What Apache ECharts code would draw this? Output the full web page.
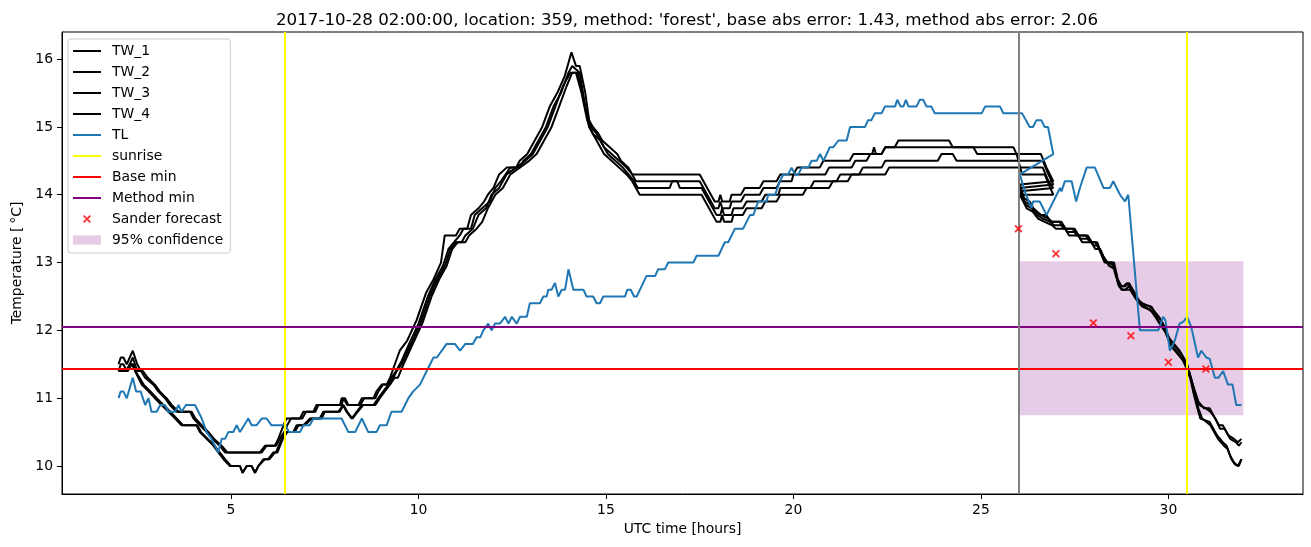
<!DOCTYPE html>
<html><head><meta charset="utf-8">
<script src="https://cdn.jsdelivr.net/npm/echarts@6/dist/echarts.min.js"></script>
<style>html,body{margin:0;padding:0;background:#fff}#c{width:1311px;height:547px}</style>
</head><body><div id="c"></div>
<script>
// ---------------- data (hours UTC, temperature degC) ----------------
const TW_1 = [[2.0,11.5],[2.06,11.6],[2.13,11.6],[2.22,11.5],[2.38,11.7],[2.5,11.5],[2.6,11.4],[2.71,11.3],[2.93,11.2],[3.06,11.1],[3.24,11.0],[3.37,10.9],[3.55,10.8],[3.91,10.8],[4.0,10.7],[4.17,10.6],[4.35,10.5],[4.5,10.4],[4.7,10.3],[4.84,10.2],[5.77,10.2],[5.91,10.3],[6.17,10.3],[6.26,10.4],[6.4,10.6],[6.48,10.7],[6.84,10.7],[6.93,10.8],[7.2,10.8],[7.28,10.9],[7.91,10.9],[7.95,11.0],[8.04,11.0],[8.13,10.9],[8.4,10.9],[8.49,11.0],[8.8,11.0],[8.88,11.1],[9.02,11.2],[9.15,11.2],[9.24,11.3],[9.37,11.5],[9.5,11.7],[9.7,11.85],[9.95,12.15],[10.2,12.55],[10.4,12.75],[10.6,13.0],[10.7,13.4],[11.0,13.4],[11.1,13.5],[11.3,13.5],[11.4,13.7],[11.6,13.8],[11.75,13.9],[11.85,14.0],[12.0,14.1],[12.15,14.3],[12.35,14.4],[12.6,14.4],[12.7,14.5],[12.9,14.6],[13.1,14.8],[13.3,15.0],[13.5,15.3],[13.7,15.5],[13.9,15.75],[14.08,16.1],[14.2,15.9],[14.3,15.9],[14.45,15.5],[14.55,15.1],[14.65,15.0],[14.8,14.9],[14.9,14.8],[15.1,14.7],[15.3,14.6],[15.4,14.5],[15.6,14.4],[15.7,14.3],[17.5,14.3],[17.7,14.1],[17.9,13.9],[18.0,13.9],[18.05,14.0],[18.1,13.9],[18.3,13.9],[18.35,14.0],[18.6,14.0],[18.7,14.1],[19.1,14.1],[19.2,14.2],[19.55,14.2],[19.65,14.3],[20.0,14.3],[20.1,14.4],[20.7,14.4],[20.8,14.5],[21.5,14.5],[21.6,14.6],[22.1,14.6],[22.15,14.7],[22.2,14.6],[22.35,14.6],[22.45,14.7],[22.7,14.7],[22.8,14.8],[24.15,14.8],[24.25,14.7],[25.87,14.7],[25.95,14.6],[26.6,14.6],[26.75,14.4],[26.93,14.2],
  [26.04,14.15],[26.15,13.95],[26.3,13.9],[26.4,13.8],[26.6,13.7],[26.75,13.7],[26.85,13.6],[27.1,13.6],[27.2,13.5],[27.45,13.5],[27.55,13.4],[27.8,13.4],[27.9,13.3],[28.05,13.3],[28.15,13.2],[28.3,13.0],[28.5,13.0],[28.6,12.8],[28.7,12.65],[28.8,12.65],[28.9,12.7],[29.05,12.6],[29.2,12.45],[29.3,12.4],[29.5,12.35],[29.6,12.3],[29.75,12.2],[29.85,12.1],[30.0,11.9],[30.15,11.8],[30.3,11.7],[30.45,11.55],[30.55,11.4],[30.65,11.2],[30.8,10.95],[30.95,10.85],[31.1,10.85],[31.2,10.75],[31.35,10.6],[31.45,10.6],[31.6,10.45],[31.75,10.4],[31.85,10.35],[31.95,10.4]];
const TW_2 = [[2.0,11.4],[2.06,11.5],[2.13,11.5],[2.22,11.4],[2.38,11.6],[2.5,11.4],[2.65,11.4],[2.78,11.3],[2.97,11.2],[3.1,11.1],[3.28,11.0],[3.42,10.9],[3.6,10.8],[3.95,10.8],[4.05,10.7],[4.22,10.6],[4.4,10.5],[4.55,10.4],[4.75,10.3],[4.9,10.2],[5.82,10.2],[5.95,10.3],[6.2,10.3],[6.3,10.4],[6.42,10.5],[6.5,10.6],[6.6,10.7],[6.9,10.7],[7.0,10.8],[7.25,10.8],[7.33,10.9],[7.95,10.9],[8.0,11.0],[8.1,10.9],[8.45,10.9],[8.55,11.0],[8.85,11.0],[8.93,11.1],[9.05,11.2],[9.18,11.2],[9.28,11.3],[9.4,11.4],[9.55,11.55],[9.75,11.8],[10.0,12.1],[10.25,12.5],[10.45,12.75],[10.65,12.95],[10.8,13.2],[10.95,13.3],[11.1,13.4],[11.2,13.5],[11.4,13.5],[11.5,13.7],[11.7,13.8],[11.9,13.9],[12.05,14.1],[12.2,14.2],[12.45,14.4],[12.7,14.4],[12.8,14.5],[13.0,14.6],[13.2,14.8],[13.4,15.0],[13.6,15.3],[13.8,15.5],[14.0,15.8],[14.1,15.9],[14.3,15.8],[14.45,15.3],[14.6,15.0],[14.75,14.9],[14.95,14.7],[15.15,14.6],[15.35,14.5],[15.55,14.4],[15.7,14.3],[15.8,14.2],[17.5,14.2],[17.7,14.0],[17.9,13.8],[18.0,13.8],[18.05,13.9],[18.1,13.8],[18.3,13.8],[18.35,13.9],[18.6,13.9],[18.7,14.0],[19.1,14.0],[19.2,14.1],[19.55,14.1],[19.64,14.2],[19.95,14.2],[20.0,14.3],[20.85,14.3],[20.95,14.4],[21.55,14.4],[21.65,14.5],[21.95,14.5],[22.05,14.6],[22.35,14.6],[22.45,14.7],[24.8,14.7],[24.9,14.6],[25.95,14.6],[26.0,14.5],[26.65,14.5],[26.8,14.3],[26.93,14.15],
  [26.04,14.1],[26.17,13.9],[26.32,13.85],[26.45,13.75],[26.6,13.7],[26.8,13.65],[26.9,13.6],[27.15,13.6],[27.25,13.5],[27.5,13.5],[27.6,13.4],[27.85,13.4],[27.95,13.3],[28.1,13.3],[28.2,13.15],[28.35,13.0],[28.55,13.0],[28.65,12.75],[28.75,12.65],[28.85,12.65],[28.95,12.7],[29.1,12.55],[29.25,12.4],[29.55,12.35],[29.65,12.25],[29.8,12.15],[29.9,12.05],[30.05,11.85],[30.2,11.75],[30.35,11.65],[30.5,11.5],[30.6,11.3],[30.7,11.1],[30.82,10.9],[31.0,10.85],[31.12,10.8],[31.25,10.7],[31.38,10.55],[31.5,10.55],[31.65,10.4],[31.8,10.35],[31.88,10.3],[31.95,10.35]];
const TW_3 = [[2.0,11.4],[2.2,11.4],[2.3,11.5],[2.4,11.5],[2.44,11.4],[2.62,11.2],[2.8,11.1],[2.97,11.0],[3.15,10.9],[3.33,10.8],[3.51,10.7],[3.68,10.6],[4.08,10.6],[4.17,10.5],[4.35,10.4],[4.53,10.3],[4.66,10.2],[4.8,10.1],[4.97,10.0],[5.24,10.0],[5.31,9.9],[5.42,10.0],[5.55,10.0],[5.64,9.9],[5.73,10.0],[5.86,10.1],[5.99,10.1],[6.13,10.2],[6.2,10.2],[6.35,10.4],[6.48,10.5],[6.66,10.5],[6.75,10.6],[6.93,10.6],[7.11,10.7],[7.37,10.7],[7.46,10.8],[7.86,10.8],[7.99,10.9],[8.08,10.8],[8.22,10.7],[8.35,10.8],[8.49,10.9],[8.8,10.9],[8.93,11.0],[9.06,11.1],[9.2,11.2],[9.33,11.3],[9.42,11.4],[9.55,11.5],[9.8,11.8],[10.05,12.1],[10.3,12.5],[10.5,12.75],[10.7,12.95],[10.85,13.2],[11.0,13.3],[11.15,13.3],[11.25,13.4],[11.45,13.5],[11.6,13.7],[11.8,13.8],[11.95,14.0],[12.15,14.1],[12.35,14.3],[12.6,14.4],[12.85,14.5],[13.05,14.6],[13.25,14.8],[13.45,15.0],[13.65,15.3],[13.85,15.6],[14.05,15.8],[14.2,15.8],[14.35,15.5],[14.5,15.1],[14.65,14.9],[14.85,14.8],[15.05,14.6],[15.25,14.5],[15.45,14.4],[15.6,14.3],[15.75,14.2],[15.85,14.1],[16.7,14.1],[16.77,14.2],[16.9,14.2],[16.97,14.1],[17.55,14.1],[17.75,13.9],[17.95,13.7],[18.05,13.7],[18.1,13.8],[18.15,13.7],[18.35,13.7],[18.4,13.8],[18.65,13.8],[18.75,13.9],[19.15,13.9],[19.25,14.0],[19.6,14.0],[19.65,14.1],[20.45,14.1],[20.55,14.2],[21.15,14.2],[21.25,14.3],[21.75,14.3],[21.85,14.4],[22.35,14.4],[22.45,14.5],[23.85,14.5],[23.95,14.6],[24.25,14.6],[24.35,14.5],[26.0,14.5],[26.05,14.4],[26.65,14.4],[26.8,14.2],[26.93,14.1],
  [26.04,14.05],[26.2,13.85],[26.35,13.8],[26.5,13.7],[26.65,13.65],[26.85,13.6],[26.95,13.55],[27.2,13.55],[27.3,13.45],[27.55,13.45],[27.65,13.35],[27.9,13.35],[28.0,13.25],[28.12,13.25],[28.25,13.1],[28.38,13.0],[28.55,12.95],[28.65,12.7],[28.75,12.6],[28.85,12.6],[28.95,12.65],[29.1,12.5],[29.25,12.4],[29.5,12.3],[29.62,12.25],[29.78,12.1],[29.9,12.0],[30.05,11.8],[30.2,11.7],[30.35,11.6],[30.48,11.45],[30.58,11.3],[30.66,11.1],[30.75,10.9],[30.85,10.7],[31.1,10.65],[31.3,10.45],[31.45,10.35],[31.55,10.3],[31.65,10.15],[31.75,10.05],[31.85,10.0],[31.95,10.1]];
const TW_4 = [[2.0,11.4],[2.25,11.4],[2.35,11.5],[2.45,11.4],[2.5,11.4],[2.67,11.2],[2.85,11.1],[3.02,11.0],[3.2,10.9],[3.38,10.8],[3.55,10.7],[3.72,10.6],[4.1,10.6],[4.2,10.5],[4.38,10.4],[4.56,10.3],[4.7,10.2],[4.84,10.1],[5.0,10.0],[5.24,10.0],[5.31,9.9],[5.42,10.0],[5.55,10.0],[5.64,9.9],[5.73,10.0],[5.9,10.1],[6.03,10.1],[6.17,10.2],[6.24,10.2],[6.38,10.4],[6.5,10.5],[6.7,10.5],[6.8,10.6],[6.97,10.6],[7.15,10.7],[7.42,10.7],[7.5,10.8],[7.9,10.8],[8.0,10.9],[8.1,10.8],[8.24,10.7],[8.38,10.8],[8.53,10.9],[8.85,10.9],[8.97,11.0],[9.1,11.1],[9.24,11.2],[9.36,11.3],[9.45,11.3],[9.6,11.5],[9.85,11.8],[10.1,12.1],[10.35,12.5],[10.55,12.75],[10.75,12.95],[10.9,13.2],[11.05,13.3],[11.25,13.3],[11.35,13.4],[11.55,13.5],[11.7,13.6],[11.85,13.8],[12.05,14.0],[12.25,14.1],[12.45,14.3],[12.7,14.4],[12.95,14.5],[13.15,14.6],[13.35,14.8],[13.55,15.0],[13.75,15.3],[13.95,15.6],[14.1,15.8],[14.25,15.8],[14.4,15.4],[14.55,15.0],[14.75,14.8],[14.95,14.6],[15.15,14.5],[15.35,14.4],[15.55,14.3],[15.7,14.2],[15.8,14.1],[15.9,14.0],[17.55,14.0],[17.75,13.8],[17.95,13.6],[18.05,13.6],[18.1,13.7],[18.15,13.6],[18.35,13.6],[18.4,13.7],[18.65,13.7],[18.75,13.8],[19.15,13.8],[19.25,13.9],[19.55,13.9],[19.65,14.0],[20.25,14.0],[20.35,14.1],[20.95,14.1],[21.05,14.2],[21.45,14.2],[21.55,14.3],[22.45,14.3],[22.55,14.4],[26.05,14.4],[26.1,14.3],[26.7,14.3],[26.85,14.1],[26.93,14.0],
  [26.04,14.0],[26.22,13.8],[26.38,13.75],[26.52,13.65],[26.7,13.6],[26.9,13.55],[27.0,13.5],[27.25,13.5],[27.35,13.4],[27.6,13.4],[27.7,13.3],[27.95,13.3],[28.05,13.2],[28.18,13.2],[28.3,13.05],[28.42,12.95],[28.58,12.9],[28.68,12.65],[28.78,12.6],[28.88,12.6],[28.98,12.6],[29.15,12.45],[29.3,12.35],[29.52,12.3],[29.65,12.2],[29.82,12.05],[29.95,11.95],[30.1,11.75],[30.25,11.65],[30.4,11.55],[30.52,11.4],[30.62,11.25],[30.7,11.05],[30.8,10.85],[30.9,10.7],[31.12,10.6],[31.32,10.4],[31.48,10.3],[31.58,10.25],[31.68,10.1],[31.78,10.02],[31.88,10.0],[31.95,10.1]];
const TL = [[2.0,11.0],[2.06,11.1],[2.13,11.1],[2.22,11.0],[2.38,11.3],[2.47,11.1],[2.59,11.1],[2.71,10.9],[2.8,11.0],[2.88,10.8],[3.02,10.8],[3.11,10.9],[3.24,10.9],[3.33,10.8],[3.51,10.8],[3.6,10.9],[3.68,10.8],[3.8,10.9],[4.04,10.9],[4.13,10.8],[4.22,10.7],[4.35,10.5],[4.48,10.4],[4.66,10.2],[4.75,10.4],[4.84,10.4],[4.93,10.5],[5.06,10.5],[5.15,10.6],[5.24,10.5],[5.46,10.7],[5.55,10.6],[5.68,10.6],[5.82,10.7],[5.95,10.7],[6.08,10.6],[6.45,10.6],[6.55,10.5],[6.84,10.5],[6.93,10.6],[7.1,10.6],[7.2,10.7],[7.95,10.7],[8.13,10.5],[8.31,10.5],[8.49,10.7],[8.66,10.5],[8.88,10.5],[8.97,10.6],[9.15,10.6],[9.28,10.8],[9.55,10.8],[9.73,11.0],[9.86,11.1],[10.04,11.2],[10.22,11.4],[10.4,11.6],[10.49,11.6],[10.75,11.8],[10.97,11.8],[11.11,11.7],[11.25,11.8],[11.45,11.8],[11.55,11.9],[11.65,11.9],[11.73,12.0],[11.86,12.1],[11.95,12.0],[12.04,12.1],[12.17,12.1],[12.31,12.2],[12.4,12.1],[12.49,12.2],[12.62,12.1],[12.71,12.2],[12.89,12.2],[12.97,12.4],[13.24,12.4],[13.33,12.5],[13.42,12.5],[13.46,12.6],[13.55,12.6],[13.64,12.7],[13.73,12.5],[13.82,12.6],[13.91,12.6],[14.0,12.9],[14.13,12.6],[14.4,12.6],[14.48,12.5],[14.66,12.5],[14.75,12.4],[14.84,12.4],[14.93,12.5],[15.51,12.5],[15.57,12.6],[15.66,12.6],[15.75,12.5],[15.82,12.5],[16.08,12.8],[16.31,12.8],[16.39,12.9],[16.57,12.9],[16.66,13.0],[17.33,13.0],[17.42,13.1],[18.0,13.1],[18.17,13.3],[18.26,13.3],[18.44,13.5],[18.66,13.5],[18.84,13.7],[18.93,13.7],[19.06,13.9],[19.28,13.9],[19.33,14.0],[19.51,14.0],[19.64,14.2],[19.73,14.3],[19.86,14.3],[19.95,14.4],[20.04,14.3],[20.13,14.3],[20.22,14.4],[20.4,14.4],[20.48,14.5],[20.62,14.5],[20.71,14.6],[20.8,14.5],[20.97,14.7],[21.06,14.7],[21.2,14.8],[21.42,14.8],[21.51,15.0],[21.91,15.0],[21.99,15.1],[22.08,15.1],[22.17,15.2],[22.35,15.2],[22.44,15.3],[22.71,15.3],[22.77,15.4],[22.86,15.3],[22.93,15.3],[23.0,15.4],[23.07,15.3],[23.28,15.3],[23.37,15.4],[23.46,15.4],[23.55,15.3],[23.68,15.3],[23.77,15.2],[25.02,15.2],[25.11,15.3],[25.51,15.3],[25.6,15.2],[26.1,15.2],[26.3,15.0],[26.39,15.0],[26.48,15.1],[26.61,15.1],[26.7,15.0],[26.79,15.0],[26.93,14.6],
  [26.04,14.3],[26.17,14.05],[26.35,13.8],[26.39,13.9],[26.57,13.9],[26.75,13.7],[27.11,14.1],[27.15,14.05],[27.24,14.2],[27.42,14.2],[27.54,13.9],[27.64,14.1],[27.82,14.4],[28.04,14.4],[28.27,14.1],[28.44,14.1],[28.53,14.2],[28.71,14.0],[28.84,13.9],[28.93,14.0],[28.98,14.0],[29.24,12.0],[29.73,12.0],[29.86,12.2],[29.92,12.15],[30.04,11.7],[30.17,11.85],[30.3,12.1],[30.4,12.13],[30.5,12.2],[30.61,12.05],[30.79,11.6],[30.88,11.7],[31.01,11.6],[31.1,11.58],[31.24,11.3],[31.33,11.3],[31.46,11.4],[31.59,11.2],[31.71,11.2],[31.81,10.9],[31.95,10.9]];
const sunriseHours = [6.44, 30.49];
const baseMin = 11.43;
const methodMin = 12.06;
const forecastStart = 26;
const sanderForecast = [[26,13.5],[27,13.13],[28,12.11],[29,11.92],[30,11.53],[31,11.43]];
const confidenceHours = [26, 32];
const confidenceBounds = [10.75, 13.02];
const xTicks = [5, 10, 15, 20, 25, 30];
const yTicks = [10, 11, 12, 13, 14, 15, 16];
const legendNames = ['TW_1','TW_2','TW_3','TW_4','TL','sunrise','Base min','Method min','Sander forecast','95% confidence'];
const titleText = "2017-10-28 02:00:00, location: 359, method: 'forest', base abs error: 1.43, method abs error: 2.06";

// ---------------- chart ----------------
const FONT = 'DejaVu Sans';
const lineIcon = 'path://M0,0M34,14M0,6H28V8H0Z';
const patchIcon = 'path://M0,0M34,14M0,2.3H28V11.7H0Z';
const xIcon = 'path://M0,0M34,14M10,4.3L11.3,3L18,9.7L16.7,11ZM16.7,3L18,4.3L11.3,11L10,9.7Z';
const xSymbol = 'path://M0,1.3L1.3,0L8,6.7L6.7,8ZM6.7,0L8,1.3L1.3,8L0,6.7Z';

function lineSeries(name, data, color) {
  return { name, type: 'line', data, color, showSymbol: false, symbol: 'none',
    lineStyle: { color, width: 2 }, itemStyle: { color }, emphasis: { disabled: true }, z: 3 };
}
function markSeries(name, color, markData, z) {
  return { name, type: 'line', data: [], color, itemStyle: { color }, z: z || 4,
    markLine: { silent: true, symbol: ['none', 'none'], label: { show: false }, z: z || 4,
      lineStyle: { color, width: 2, type: 'solid' }, emphasis: { disabled: true }, data: markData } };
}

const chart = echarts.init(document.getElementById('c'), null, { renderer: 'canvas' });
chart.setOption({
  animation: false,
  backgroundColor: '#fff',
  textStyle: { fontFamily: FONT },
  title: { text: titleText, left: 682, top: 7, textAlign: 'center',
    textStyle: { fontFamily: FONT, fontSize: 16.7, fontWeight: 'normal', color: '#000' } },
  grid: { left: 62, right: 8, top: 32, bottom: 53, show: true, borderColor: '#000', borderWidth: 1, backgroundColor: 'transparent' },
  legend: {
    orient: 'vertical', left: 68, top: 39, itemWidth: 34, itemHeight: 14, itemGap: 7,
    padding: [5, 7, 6, 5], borderColor: '#cccccc', borderWidth: 1, borderRadius: 3,
    backgroundColor: 'rgba(255,255,255,0.8)', selectedMode: false, z: 10,
    textStyle: { fontFamily: FONT, fontSize: 13.9, color: '#000', padding: [0, 0, 0, 0] },
    data: legendNames.map(n => ({ name: n,
      icon: n === 'Sander forecast' ? xIcon : (n === '95% confidence' ? patchIcon : lineIcon) }))
  },
  xAxis: {
    type: 'value', min: 0.493, max: 33.59,
    name: 'UTC time [hours]', nameLocation: 'middle', nameGap: 28,
    nameTextStyle: { fontFamily: FONT, fontSize: 13.9, color: '#000' },
    axisLine: { show: true, lineStyle: { color: '#000', width: 1 } },
    axisTick: { show: true, length: 5, customValues: xTicks, lineStyle: { color: '#000', width: 1 } },
    axisLabel: { customValues: xTicks, margin: 9, fontFamily: FONT, fontSize: 13.9, color: '#000', formatter: v => String(v) },
    splitLine: { show: false }
  },
  yAxis: {
    type: 'value', min: 9.587, max: 16.40,
    name: 'Temperature [\u2009°C]', nameLocation: 'middle', nameGap: 37,
    nameTextStyle: { fontFamily: FONT, fontSize: 13.9, color: '#000' },
    axisLine: { show: true, lineStyle: { color: '#000', width: 1 } },
    axisTick: { show: true, length: 5, customValues: yTicks, lineStyle: { color: '#000', width: 1 } },
    axisLabel: { customValues: yTicks, margin: 9, fontFamily: FONT, fontSize: 13.9, color: '#000', formatter: v => String(v) },
    splitLine: { show: false }
  },
  series: [
    { name: '95% confidence', type: 'line', data: [], color: 'rgba(128,0,128,0.2)', itemStyle: { color: 'rgba(128,0,128,0.2)' }, z: 1,
      markArea: { silent: true, z: 1, itemStyle: { color: 'rgba(128,0,128,0.2)' }, emphasis: { disabled: true },
        data: [[{ xAxis: confidenceHours[0], yAxis: confidenceBounds[0] }, { xAxis: confidenceHours[1], yAxis: confidenceBounds[1] }]] } },
    lineSeries('TW_1', TW_1, '#000000'),
    lineSeries('TW_2', TW_2, '#000000'),
    lineSeries('TW_3', TW_3, '#000000'),
    lineSeries('TW_4', TW_4, '#000000'),
    lineSeries('TL', TL, '#1f77b4'),
    markSeries('sunrise', '#ffff00', sunriseHours.map(h => ({ xAxis: h }))),
    markSeries('Base min', '#ff0000', [{ yAxis: baseMin }]),
    markSeries('Method min', '#800080', [{ yAxis: methodMin }]),
    markSeries('forecast start', '#808080', [{ xAxis: forecastStart }]),
    { name: 'Sander forecast', type: 'scatter', data: sanderForecast, symbol: xSymbol, symbolSize: 8,
      itemStyle: { color: '#ff0000' }, emphasis: { disabled: true }, z: 5 }
  ]
});
</script></body></html>
